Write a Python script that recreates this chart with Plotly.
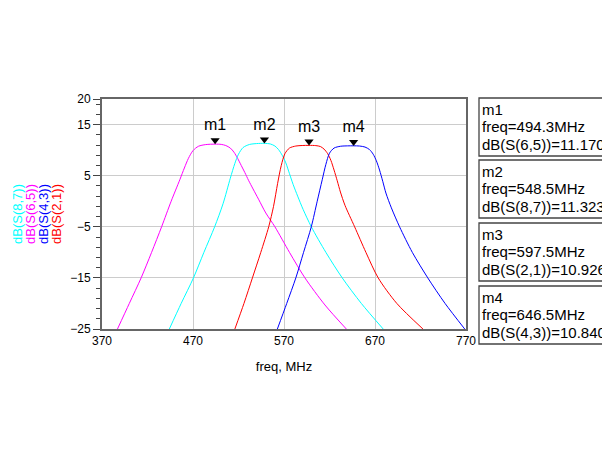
import plotly.graph_objects as go

# ---- data ----
f_s65 = [387, 400, 413, 424.5, 435.5, 446, 455.5, 460.5, 465, 470, 476, 484, 494.3, 501, 506, 511, 515, 519, 523, 527, 531, 536, 542, 550, 560, 576, 593, 615, 638.5]
db_s65 = [-25, -20, -15, -10, -5, 0, 4.2, 6.5, 8.4, 9.9, 10.75, 11.08, 11.17, 11.12, 10.9, 10.4, 9.6, 8.4, 7, 5.6, 4.1, 2.4, 0.4, -2.3, -5, -10, -15, -20.3, -25]

f_s87 = [444, 457, 470.5, 482, 493.8, 503, 511, 516, 520, 525, 532, 540, 548.5, 555, 560, 564, 568, 572, 576, 580, 585, 591, 600, 616, 634, 655, 679]
db_s87 = [-25, -20, -15, -10, -5, -0.5, 4.5, 7.4, 9.2, 10.5, 11.1, 11.28, 11.32, 11.2, 10.8, 10.1, 9, 7.5, 5.4, 3.3, 1, -1.6, -5, -10, -15, -20, -25]

f_s21 = [516, 526, 535.3, 544.5, 553.2, 558.5, 563, 567, 571, 576, 583, 590, 597.5, 605, 610, 614, 618, 621.5, 625, 628.5, 632, 637, 647.6, 660, 673.5, 694, 722.7]
db_s21 = [-25, -20, -15, -10, -5, -1, 3.5, 7, 9.3, 10.4, 10.8, 10.9, 10.93, 10.88, 10.7, 10.2, 9.3, 8, 6.1, 4, 1.8, -0.8, -5, -10, -15, -20, -25]

f_s43 = [562.7, 573, 583, 591.5, 600, 606.5, 612, 616, 620, 625, 632, 640, 646.5, 653, 659, 664, 668, 671.5, 675, 678.5, 682, 688, 697, 711, 728, 747, 768.6]
db_s43 = [-25, -20, -15, -10, -5, 0, 4.2, 7.2, 9.4, 10.4, 10.75, 10.83, 10.84, 10.8, 10.6, 10.1, 9.2, 7.9, 6.1, 3.9, 1.6, -1.3, -5, -10, -15, -20, -25]

marker_names = ["m1", "m2", "m3", "m4"]
marker_freq = [494.3, 548.5, 597.5, 646.5]
marker_val = [11.170, 11.323, 10.926, 10.840]
marker_trace = ["dB(S(6,5))", "dB(S(8,7))", "dB(S(2,1))", "dB(S(4,3))"]

axis_names = ["dB(S(8,7))", "dB(S(6,5))", "dB(S(4,3))", "dB(S(2,1))"]
axis_colors = ["#00FFFF", "#FF00FF", "#0000FF", "#FF0000"]

x_ticks = [370, 470, 570, 670, 770]
y_ticks = [-25, -15, -5, 5, 15, 20]

FONT = "Liberation Sans, Arial, sans-serif"

fig = go.Figure()
series = [
    (f_s65, db_s65, "#FF00FF"),
    (f_s87, db_s87, "#00FFFF"),
    (f_s21, db_s21, "#FF0000"),
    (f_s43, db_s43, "#0000FF"),
]
for fx, fy, col in series:
    fig.add_trace(go.Scatter(x=fx, y=fy, mode="lines",
                             line=dict(color=col, width=1, shape="spline", smoothing=0.8),
                             hoverinfo="skip", showlegend=False))

fig.add_trace(go.Scatter(
    x=marker_freq, y=[v + 0.75 for v in marker_val], mode="markers+text",
    marker=dict(symbol="triangle-down", size=8, color="black"),
    text=marker_names, textposition="top center",
    textfont=dict(family=FONT, size=16, color="black"),
    showlegend=False, hoverinfo="skip"))

L, R, T, B = 94, 152, 91, 129
PW, PH = 610 - L - R, 450 - T - B


def px_x(px):
    return (px - L) / PW


def px_y(py):
    return (450 - B - py) / PH


# y-axis title: four coloured rotated labels
px_positions = [9, 22, 35, 48]
for name, col, px in zip(axis_names, axis_colors, px_positions):
    fig.add_annotation(xref="paper", yref="paper", x=px_x(px), y=px_y(206),
                       text=name, textangle=-90, showarrow=False,
                       xanchor="center", yanchor="middle",
                       font=dict(family=FONT, size=13, color=col))

# marker readout boxes
box_top = [90, 152, 215, 278]
box_h = 58
line_off = [11.5, 28.5, 46.5]
for i in range(4):
    top = box_top[i]
    fig.add_shape(type="rect", xref="paper", yref="paper",
                  x0=px_x(471), x1=px_x(608), y0=px_y(top), y1=px_y(top + box_h),
                  line=dict(color="#444444", width=1.3), fillcolor="white", layer="above")
    lines = [marker_names[i], f"freq={marker_freq[i]:.1f}MHz",
             f"{marker_trace[i]}={marker_val[i]:.3f}"]
    for txt, off in zip(lines, line_off):
        fig.add_annotation(xref="paper", yref="paper", x=px_x(472), y=px_y(top + off),
                           xanchor="left", yanchor="middle", text=txt, showarrow=False,
                           font=dict(family=FONT, size=15, color="black"))

fig.update_layout(
    width=610, height=450,
    margin=dict(l=L, r=R, t=T, b=B),
    paper_bgcolor="white", plot_bgcolor="white",
    font=dict(family=FONT, size=12, color="black"),
    xaxis=dict(range=[370, 770], tickvals=x_ticks, showgrid=True,
               gridcolor="#CCCCCC", gridwidth=1, zeroline=False,
               showline=True, linecolor="#666666", linewidth=2, mirror=True,
               ticks="", title=dict(text="freq, MHz", font=dict(size=13), standoff=14),
               tickfont=dict(size=12)),
    yaxis=dict(range=[-25, 20], tickvals=y_ticks, showgrid=True,
               gridcolor="#CCCCCC", gridwidth=1, zeroline=False,
               showline=True, linecolor="#666666", linewidth=2, mirror=True,
               ticks="outside", ticklen=7, tickcolor="#444444", tickwidth=1,
               minor=dict(tick0=-25, dtick=2, ticks="outside", ticklen=4,
                          tickcolor="#444444", showgrid=False),
               tickfont=dict(size=12)),
)

fig.write_html("out.html")
